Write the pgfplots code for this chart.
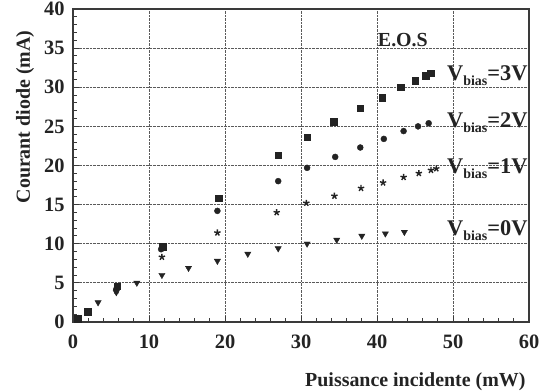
\documentclass[border=0pt]{standalone}
\usepackage{pgfplots}
\pgfplotsset{compat=1.18}
\usepackage{fontspec}
\setmainfont{Liberation Serif}
\definecolor{ink}{HTML}{232323}
\definecolor{frame}{HTML}{3A3A3A}
\definecolor{gridc}{HTML}{5A5A5A}
\begin{document}
\begin{tikzpicture}
\useasboundingbox (-73bp,-69bp) rectangle (470bp,322bp);
\begin{axis}[
  at={(0,0)}, anchor=south west,
  scale only axis, width=456bp, height=313bp,
  xmin=0, xmax=60, ymin=0, ymax=40,
  xtick={0,10,...,60}, ytick={0,5,...,40},
  minor x tick num=4, minor y tick num=4,
  tick align=inside, xtick pos=left, ytick pos=left,
  major tick length=6bp, minor tick length=4.5bp,
  axis line style={frame, line width=1.2bp},
  every tick/.style={frame, line width=0.9bp},
  grid=major,
  major grid style={gridc, densely dotted, line width=0.8bp},
  /pgf/number format/assume math mode=true,
  tick label style={font=\bfseries\fontsize{20.5}{20.5}\selectfont, text=ink},
  xticklabel style={yshift=-9bp},
  yticklabel style={xshift=-5bp},
  xlabel={Puissance incidente (mW)},
  ylabel={Courant diode (mA)},
  label style={font=\bfseries\fontsize{20}{20}\selectfont, text=ink},
  xlabel style={at={(axis description cs:1,0)}, anchor=base east, yshift=-64bp},
  ylabel style={at={(axis description cs:-0.105,0.655)}, anchor=center},
  clip=false,
]
% V_bias = 3 V
\addplot[only marks, mark=square*, mark size=3.3bp, ink, mark options={fill=ink}] coordinates {
 (0.6,0.4) (1.9,1.3) (5.8,4.6) (11.8,9.6) (19.2,15.8) (27.0,21.3) (30.8,23.6)
 (34.3,25.6) (37.8,27.3) (40.7,28.7) (43.1,30.0) (45.0,30.8) (46.4,31.5) (47.1,31.8)};
% V_bias = 2 V
\addplot[only marks, mark=*, mark size=3bp, ink, mark options={fill=ink}] coordinates {
 (0.7,0.5) (5.7,4.2) (11.6,9.3) (19.0,14.2) (27.0,18.0) (30.8,19.7) (34.5,21.1)
 (37.8,22.3) (40.9,23.4) (43.5,24.4) (45.4,25.0) (46.8,25.4)};
% V_bias = 1 V
\addplot[only marks, mark=star, mark size=3.3bp, ink, mark options={line width=1.4bp}] coordinates {
 (5.7,4.0) (11.7,8.3) (19.0,11.4) (26.8,14.0) (30.7,15.2) (34.4,16.1) (37.9,17.1)
 (40.8,17.8) (43.5,18.5) (45.5,19.0) (47.1,19.4) (47.8,19.6)};
% V_bias = 0 V
\addplot[only marks, mark=triangle*, mark size=3.6bp, ink, mark options={fill=ink, rotate=180}] coordinates {
 (3.3,2.5) (5.7,3.8) (8.4,5.0) (11.7,6.0) (15.2,6.9) (19.0,7.8) (23.0,8.7)
 (27.0,9.4) (30.8,10.0) (34.7,10.5) (38.0,11.0) (41.1,11.3) (43.6,11.5)};
% annotations
\node[anchor=base west, inner sep=0, text=ink, font=\bfseries\fontsize{20}{20}\selectfont] at (axis cs:40.1,35.2) {E.O.S};
\node[anchor=base west, inner sep=0, text=ink, font=\bfseries\fontsize{22.5}{22.5}\selectfont] at (axis cs:49.2,30.9) {V\raisebox{-5bp}{\fontsize{14}{14}\selectfont bias}=3V};
\node[anchor=base west, inner sep=0, text=ink, font=\bfseries\fontsize{22.5}{22.5}\selectfont] at (axis cs:49.2,24.9) {V\raisebox{-5bp}{\fontsize{14}{14}\selectfont bias}=2V};
\node[anchor=base west, inner sep=0, text=ink, font=\bfseries\fontsize{22.5}{22.5}\selectfont] at (axis cs:49.2,19.0) {V\raisebox{-5bp}{\fontsize{14}{14}\selectfont bias}=1V};
\node[anchor=base west, inner sep=0, text=ink, font=\bfseries\fontsize{22.5}{22.5}\selectfont] at (axis cs:49.2,11.1) {V\raisebox{-5bp}{\fontsize{14}{14}\selectfont bias}=0V};
\end{axis}
\end{tikzpicture}
\end{document}
